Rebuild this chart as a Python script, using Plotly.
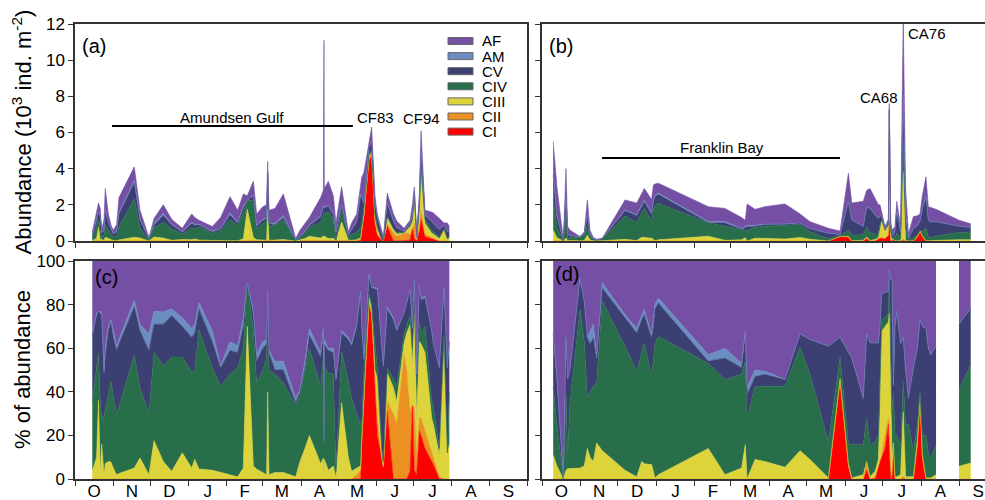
import plotly.graph_objects as go

# ---------------- data ----------------
stages = ["CI", "CII", "CIII", "CIV", "CV", "AM", "AF"]
colors = {"AF": "#744FA3", "AM": "#6A8DC2", "CV": "#3B3F72", "CIV": "#286E4A",
          "CIII": "#DDD43C", "CII": "#EB9122", "CI": "#FF0000"}

month_starts = [0, 31, 61, 92, 123, 152, 183, 213, 244, 274, 305, 336, 366]
month_labels = ["O", "N", "D", "J", "F", "M", "A", "M", "J", "J", "A", "S"]

# Amundsen Gulf (panels a, c): day since 1 Oct, total abundance (10^3 ind m-2), % per stage
ag_day = [14, 17.5, 19, 20.5, 21.6, 23.5, 24.5, 27, 29.1, 31, 33.7, 35.6, 48, 52.6, 59.9, 64, 71.5, 78.3,
          86.9, 94.5, 97, 100.4, 111.2, 117.9, 125.5, 131.7, 136.3, 139.5, 144.4, 147.1, 152, 155.2, 156,
          157.1, 161.9, 168.7, 178.7, 182.2, 186.2, 189.8, 198.9, 201.1, 201.6, 201.9, 205.1, 209.2, 211.3,
          215.9, 221.3, 224, 228.1, 231.3, 232.1, 234, 238.1, 240.2, 242.9, 244.8, 248.3, 249.7, 252.9,
          257.8, 260.5, 266.4, 268.6, 271.3, 273.2, 274.8, 276.7, 278.8, 280.2, 283.4, 288.8, 290.2, 295,
          298.8, 301.5, 303.1]
ag_total = [0.5, 1.5, 2.1, 1.8, 0.6, 1.2, 2.9, 1.5, 0.9, 0.6, 0.9, 2.4, 4.1, 1.7, 0.2, 1.25, 2.0, 1.2,
            0.7, 1.5, 1.3, 1.15, 0.8, 1.3, 2.45, 1.7, 2.6, 2.5, 3.3, 1.5, 1.9, 2.0, 4.4,
            1.7, 1.8, 2.6, 0.15, 0.6, 1.0, 1.3, 2.4, 2.8, 11.1, 2.9, 3.3, 2.5, 1.0,
            3.0, 0.5, 1.0, 1.5, 3.0, 3.5, 3.8, 5.6, 6.3, 2.45, 1.5, 0.6, 0.2, 2.65,
            1.5, 1.1, 0.7, 0.9, 1.15, 2.0, 3.0, 0.4, 2.5, 6.1, 1.7, 1.6, 1.55, 1.25,
            1.0, 1.0, 0.8]
ag_CI = [0] * 52 + [15.7, 35, 80, 75, 40, 20, 9.6, 5, 31, 0, 0, 0, 0, 3.5, 34, 4, 2, 22, 20, 14, 8, 6.6,
                    0, 0, 0, 0]
ag_CII = [0] * 50 + [2, 4, 0.3, 3, 0.5, 1, 5, 8, 0.4, 0.5, 4.6, 30, 25, 57, 50, 27.5, 0, 28.5, 8, 6, 8,
                     8, 4, 3, 1, 0, 0, 0]
ag_CIII = [3.5, 10, 36, 3, 16, 2, 7, 8, 7.8, 5, 2, 2.5, 5, 9.6, 2, 17.6, 8, 3.5,
           12, 5, 9, 4.6, 4, 3, 2, 1, 5, 70, 6, 4.5, 3, 2, 40,
           2, 3, 3, 1, 8, 14, 20, 7, 9.6, 2.4, 9, 4, 6, 0.5,
           35, 10, 3.5, 3, 2, 1, 2, 2.5, 2, 5, 18, 1, 0.5, 13,
           12, 10.6, 5, 17, 39.8, 18, 44.5, 17, 35, 34, 36, 16, 15.4, 10,
           61, 11, 16]
ag_CIV = [31.5, 42, 22, 32, 12, 27, 25, 32, 37.2, 33, 27.5, 30.5, 52, 32.4, 28, 40.4, 44, 52.5,
          44, 44, 41, 63.9, 47, 39.5, 46, 50, 55, 20, 62, 39.5, 47, 53.5, 46,
          48, 45, 41, 33, 30, 36, 40, 35.5, 46.4, 11.7, 43, 44.6, 42, 3,
          23.5, 35, 33.5, 25, 19, 8, 10, 2, 2, 12, 5, 4, 2, 2.4,
          4, 7.4, 4, 4, 3.8, 8, 3, 16, 9, 5, 12, 8, 8, 3,
          5, 1, 24]
ag_CV = [31, 23, 19, 41, 47, 19, 24, 28, 27, 27, 29.5, 29, 22, 26, 29, 13, 19, 19,
         14, 16, 17, 9.5, 12, 8.5, 11, 7, 10, 0, 8, 10, 10, 6.5, 0,
         8, 2, 6, 1, 2, 1, 6, 13.5, 11, 2.7, 10, 10.4, 10, 41.5,
         8.5, 19, 24, 40, 60, 45, 5, 8, 8, 25, 36, 45, 43, 27,
         27, 25, 10, 9.7, 12.4, 9, 11, 4, 17, 15, 13, 32, 29, 37,
         21.6, 39, 23]
ag_AM = [0, 1, 0, 1, 1, 1, 4, 2, 1, 3, 2, 2, 3, 3, 7.5, 6, 5.6, 3,
         4, 4, 4, 3, 5, 1, 4, 3, 4, 0, 1, 3, 3, 2, 0,
         1, 4, 4, 2, 1, 3, 3, 2, 2, 0.5, 2, 1, 2, 1,
         1, 1, 1, 1, 1, 1, 0, 1, 0, 0.6, 0.6, 1, 1, 1,
         1, 0.5, 0, 0, 0, 0, 0, 1, 0, 1, 1, 0, 0, 0,
         0, 0, 0]
ag_AF = [34, 24, 23, 23, 24, 51, 40, 30, 27, 32, 39, 36, 18, 29, 33.5, 23, 23.4, 22,
         26, 31, 29, 19, 32, 48, 37, 39, 26, 10, 23, 43, 37, 36, 14,
         41, 46, 46, 63, 59, 46, 31, 42, 31, 82.7, 36, 40, 40, 54,
         32, 35, 38, 29, 14, 29, 45, 6, 12, 12.4, 12.4, 39, 48, 21,
         26, 31.5, 24, 19.3, 13, 31, 9, 52, 11, 17, 16, 32, 38, 49,
         12.4, 49, 37]

# Franklin Bay (panels b, d)
fb_day = [9, 12, 17.2, 19.3, 20.6, 22.5, 30.6, 34, 36.5, 38.6, 41.3, 44, 48.5, 66.8, 76.2, 80.2, 82.3,
          88.2, 89.6, 90.9, 93.6, 133.8, 147.2, 160.6, 163.5, 165, 171.4, 179.4, 195.5, 207.6, 215.6,
          230.4, 239.8, 246.5, 249.2, 258.5, 261.2, 263.9, 268, 270.6, 271.9, 273.3, 276, 278.7, 279.4,
          280.5, 281.6, 282.7, 284, 285.4, 288.5, 290.6, 292.5, 294.8, 298.8, 302, 304.1, 306, 308.9,
          310.8, 312.7, 317, 335.5, 344.9]
fb_total = [5.5, 3.0, 0.05, 4.0, 0.8, 0.6, 0.25, 0.5, 2.27, 0.6, 0.2, 0.1, 0.15, 2.27, 2.1, 2.6, 2.9,
            2.3, 3.1, 3.15, 3.2, 1.9, 1.8, 1.3, 1.15, 2.05, 1.75, 1.9, 2.05, 1.5, 1.07,
            0.7, 0.55, 3.75, 2.1, 2.2, 2.8, 2.9, 2.3, 2.0, 2.0, 1.6, 0.8, 1.2, 7.6,
            1.0, 0.6, 0.7, 0.8, 2.2, 0.8, 12.4, 2.9, 0.4, 1.35, 1.4, 1.5, 2.5, 3.55,
            1.9, 1.85, 1.75, 1.15, 0.95]
fb_CI = [0] * 32 + [44.8, 6, 0, 0, 4, 0, 0, 6, 8, 10, 14, 25, 15, 0, 0, 15.7, 0, 0, 0, 0, 0, 0, 0,
                    15, 35.6, 10, 0, 0, 0, 0, 0, 0]
fb_CII = [0] * 32 + [0.2, 0, 0, 0, 4, 0, 1, 0, 1, 1, 6, 3, 10, 5, 2, 0.3, 0, 0, 0, 1, 0, 0, 0,
                     1, 0.4, 0, 0, 0, 0, 0, 0, 0]
fb_CIII = [11, 6, 0, 4, 4.7, 4.7, 5, 6, 14, 10, 8, 16.5, 13, 4, 1, 8, 7,
           6.6, 3, 0.5, 2, 14, 2, 5, 15.7, 0, 9, 8, 5.4, 13, 9,
           0.5, 1, 1, 0.5, 2, 0, 1, 2.5, 3, 21, 56.7, 50, 44, 51,
           45, 8, 0.5, 1, 1, 2, 30, 1, 1, 1, 2, 1, 1, 0.5,
           0.5, 0.5, 2, 5.8, 7.3]
fb_CIV = [31, 19, 0, 36, 5.3, 30.3, 72.7, 57, 23, 30, 34.5, 27.5, 68.5, 56.9, 48.4, 50, 55.4,
          40.4, 52, 61.5, 63.4, 39, 43.6, 43, 38.3, 28, 33.5, 34.5, 37.1, 47.4, 39,
          16.5, 10, 9, 15.2, 13.7, 20, 14.7, 13.5, 11, 15, 5.3, 4, 4, 18,
          10, 20, 23.5, 19, 19, 13, 14, 24, 24, 11.7, 7, 3, 9, 19.5,
          11.5, 9.1, 13.7, 35.2, 45.1]
fb_CV = [24, 20, 0, 24, 36, 15, 14.3, 18.5, 28, 22, 22.2, 11.5, 6.1, 13, 17.6, 15, 13,
         17.7, 15, 16, 15.3, 1, 9.9, 3, 13, 10.7, 4.5, 5.5, 3.1, 6.1, 16,
         43.9, 9, 42, 39.8, 21.3, 38.5, 46.7, 45.4, 42.4, 25, 12.3, 11.6, 10, 2,
         31.4, 61.4, 3, 50, 57, 47, 20, 25, 12, 38.3, 35, 33, 50, 49,
         48, 47.4, 45.2, 30, 26]
fb_AM = [1, 1, 0, 1, 0, 0, 0, 0, 0, 6, 6.3, 0, 2.4, 1.5, 2, 2, 2.3,
         1.3, 2, 2, 2.3, 3, 4.5, 2, 0.7, 3.3, 3, 1.4, 0, 0, 0,
         0, 0, 0, 0, 0, 0, 0, 0, 0, 0, 0, 0, 0, 0,
         0, 0, 0, 0, 0, 0, 0, 0, 0, 0, 0, 0, 0, 0,
         0, 0, 0, 0, 0]
fb_AF = [33, 54, 100, 35, 54, 50, 8, 18.5, 35, 32, 29, 44.5, 10, 24.6, 31, 25, 22.3,
         34, 28, 20, 17, 43, 40, 47, 32.3, 58, 50, 50.6, 54.4, 33.5, 36,
         39.1, 35, 42, 44.5, 63, 33.5, 37.6, 37.6, 37.6, 30, 14.7, 14.4, 14, 4,
         8.6, 8.6, 57, 30, 23, 38, 35, 50, 63, 49, 40, 27, 30, 31,
         40, 43, 39.1, 29, 21.6]
fb_gap = (317, 335.5)  # no percentage data between these sampling days

# ---------------- figure ----------------
W, H = 985, 500
FONT = "Arial, Liberation Sans, sans-serif"


def px_x(p):
    return p / W


def px_y(p):
    return (H - p) / H


ag = {"CI": ag_CI, "CII": ag_CII, "CIII": ag_CIII, "CIV": ag_CIV, "CV": ag_CV, "AM": ag_AM, "AF": ag_AF}
fb = {"CI": fb_CI, "CII": fb_CII, "CIII": fb_CIII, "CIV": fb_CIV, "CV": fb_CV, "AM": fb_AM, "AF": fb_AF}

fig = go.Figure()


def add_stack(days, values, xa, ya, group):
    for s in stages:
        fig.add_trace(go.Scatter(
            x=days, y=values[s], xaxis=xa, yaxis=ya, stackgroup=group, mode="lines",
            line=dict(width=0.6, color=colors[s]), fillcolor=colors[s],
            showlegend=False, hoverinfo="skip", name=s))


# panel a (absolute)
ag_abs = {s: [t * p / 100 for t, p in zip(ag_total, ag[s])] for s in stages}
add_stack(ag_day, ag_abs, "x", "y", "a")
# panel b (absolute)
fb_abs = {s: [t * p / 100 for t, p in zip(fb_total, fb[s])] for s in stages}
add_stack(fb_day, fb_abs, "x2", "y2", "b")
# panel c (percent)
add_stack(ag_day, ag, "x3", "y3", "c")
# panel d (percent), split around the gap
i1 = [i for i, d in enumerate(fb_day) if d <= fb_gap[0]]
i2 = [i for i, d in enumerate(fb_day) if d >= fb_gap[1]]
add_stack([fb_day[i] for i in i1], {s: [fb[s][i] for i in i1] for s in stages}, "x4", "y4", "d1")
add_stack([fb_day[i] for i in i2], {s: [fb[s][i] for i in i2] for s in stages}, "x4", "y4", "d2")

month_mid = [(a + b) / 2 for a, b in zip(month_starts[:-1], month_starts[1:])]
AXC = "#333333"


def xaxis(domain, rng, labels, anchor):
    return dict(domain=domain, range=rng, anchor=anchor, tickmode="array", tickvals=month_mid,
                ticktext=month_labels, ticks="", showticklabels=labels, automargin=False,
                ticklabelstandoff=-4,
                tickfont=dict(size=17, color="black", family=FONT),
                minor=dict(tickmode="array", tickvals=month_starts, ticks="outside", ticklen=5,
                           tickwidth=1.2, tickcolor=AXC),
                showline=True, linecolor=AXC, linewidth=1.5, mirror=True,
                showgrid=False, zeroline=False, fixedrange=True)


def yaxis(domain, rng, dtick, labels, anchor, mirror):
    return dict(domain=domain, range=rng, anchor=anchor, tickmode="linear", tick0=0, dtick=dtick,
                ticks="outside", ticklen=5, tickwidth=1.2, tickcolor=AXC, showticklabels=labels,
                automargin=False, tickfont=dict(size=17, color="black", family=FONT),
                showline=True, linecolor=AXC, linewidth=1.5, mirror=mirror,
                showgrid=False, zeroline=False, fixedrange=True)


dom_left = [px_x(75), px_x(527)]
dom_right = [px_x(542), 1.0]
dom_top = [px_y(241), px_y(24)]
dom_bot = [px_y(479), px_y(261)]
rng_left = [0, 366]
rng_right = [0, (985 - 542) / 1.243]

fig.update_layout(
    template="none",
    width=W, height=H, autosize=False,
    margin=dict(l=0, r=0, t=0, b=0, pad=0),
    paper_bgcolor="white", plot_bgcolor="white",
    font=dict(family=FONT, color="black"),
    showlegend=False,
    xaxis=xaxis(dom_left, rng_left, False, "y"),
    yaxis=yaxis(dom_top, [0, 12], 2, True, "x", True),
    xaxis2=xaxis(dom_right, rng_right, False, "y2"),
    yaxis2=yaxis(dom_top, [0, 12], 2, False, "x2", False),
    xaxis3=xaxis(dom_left, rng_left, True, "y3"),
    yaxis3=yaxis(dom_bot, [0, 100], 20, True, "x3", True),
    xaxis4=xaxis(dom_right, rng_right, True, "y4"),
    yaxis4=yaxis(dom_bot, [0, 100], 20, False, "x4", False),
)

ann = []


def text(x, y, t, size, xanchor="center", angle=0):
    ann.append(dict(x=px_x(x), y=px_y(y), xref="paper", yref="paper", text=t, showarrow=False,
                    xanchor=xanchor, yanchor="middle", textangle=angle, borderpad=0,
                    font=dict(size=size, family=FONT, color="black")))


text(21, 132.5, "Abundance (10<sup>3</sup> ind. m<sup>-2</sup>)", 22, angle=-90)
text(22, 370, "% of abundance", 22, angle=-90)
text(81, 46, "(a)", 20, "left")
text(548, 46, "(b)", 20, "left")
text(94, 277, "(c)", 20, "left")
text(554, 274, "(d)", 20, "left")
text(232, 117, "Amundsen Gulf", 15)
text(375, 117, "CF83", 15)
text(421, 118, "CF94", 15)
text(722, 147, "Franklin Bay", 15)
text(879, 98, "CA68", 15)
text(927, 34, "CA76", 15)

shapes = [
    dict(type="line", xref="x", yref="y", x0=30, x1=225, y0=6.36, y1=6.36, line=dict(color="black", width=2)),
    dict(type="line", xref="x2", yref="y2", x0=48.3, x1=239.7, y0=4.59, y1=4.59, line=dict(color="black", width=2)),
]

legend_order = ["AF", "AM", "CV", "CIV", "CIII", "CII", "CI"]
for k, s in enumerate(legend_order):
    yc = 41 + k * 15.1
    shapes.append(dict(type="rect", xref="paper", yref="paper", x0=px_x(448), x1=px_x(473),
                       y0=px_y(yc + 3.5), y1=px_y(yc - 3.5), fillcolor=colors[s],
                       line=dict(color="#666666", width=1)))
    text(481, yc, s, 15, "left")

fig.update_layout(annotations=ann, shapes=shapes)
fig.write_html("out.html", config={"displayModeBar": False},
               post_script="document.body.style.margin='0px';document.body.style.padding='0px';"
                           "document.body.style.overflow='hidden';")
